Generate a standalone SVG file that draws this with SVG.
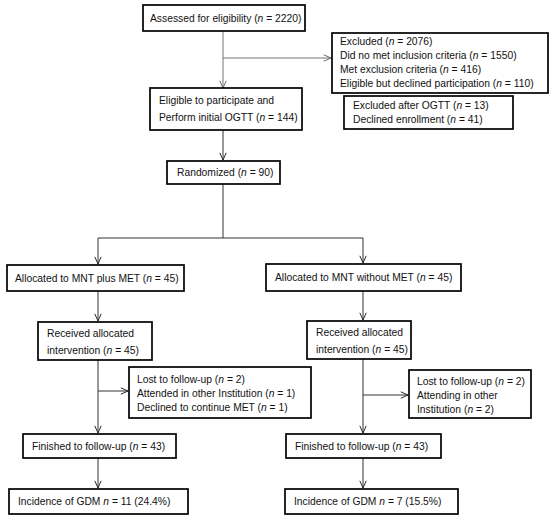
<svg xmlns="http://www.w3.org/2000/svg" width="550" height="520" viewBox="0 0 550 520">
<defs>
<marker id="ah" viewBox="0 0 10 10" refX="10" refY="5" markerWidth="8" markerHeight="8" orient="auto" markerUnits="userSpaceOnUse">
<path d="M1,1 L10,5 L1,9" fill="none" stroke="#222" stroke-width="1.2"/>
</marker>
<marker id="ahg" viewBox="0 0 10 10" refX="10" refY="5" markerWidth="8" markerHeight="8" orient="auto" markerUnits="userSpaceOnUse">
<path d="M1,1 L10,5 L1,9" fill="none" stroke="#666" stroke-width="1.2"/>
</marker>
<style>
.box{fill:#fff;stroke:#000;stroke-width:1.7}
.t{font-family:"Liberation Sans",Arial,sans-serif;font-size:10.3px;fill:#111}
.i{font-style:italic}
.c{fill:none;stroke:#333;stroke-width:1}
.g{fill:none;stroke:#777;stroke-width:1}
</style>
</defs>
<rect width="550" height="520" fill="#fff"/>
<g id="connectors">
<path class="g" d="M223,31 V88" marker-end="url(#ahg)"/>
<path class="g" d="M223,58 H331" marker-end="url(#ahg)"/>
<path class="c" d="M223,130 V160" marker-end="url(#ah)"/>
<path class="c" d="M223,184 V238"/>
<path class="c" d="M98,238 H363"/>
<path class="c" d="M98,238 V264" marker-end="url(#ah)"/>
<path class="c" d="M363,238 V263" marker-end="url(#ah)"/>
<path class="c" d="M98,291 V321" marker-end="url(#ah)"/>
<path class="c" d="M363,291 V320" marker-end="url(#ah)"/>
<path class="c" d="M98,360 V433" marker-end="url(#ah)"/>
<path class="c" d="M98,391 H128" marker-end="url(#ah)"/>
<path class="c" d="M363,359 V433" marker-end="url(#ah)"/>
<path class="c" d="M363,395 H408" marker-end="url(#ah)"/>
<path class="c" d="M98,458 V488" marker-end="url(#ah)"/>
<path class="c" d="M363,458 V488" marker-end="url(#ah)"/>
</g>
<g id="assessed">
<rect class="box" x="143" y="5" width="162" height="26"/>
<text class="t" x="150" y="22">Assessed for eligibility (<tspan class="i">n</tspan> = 2220)</text>
</g>
<g id="excluded">
<rect class="box" x="332" y="33" width="216" height="60"/>
<text class="t" x="340" y="45">Excluded (<tspan class="i">n</tspan> = 2076)</text>
<text class="t" x="340" y="59">Did no met inclusion criteria (<tspan class="i">n</tspan> = 1550)</text>
<text class="t" x="340" y="73">Met exclusion criteria (<tspan class="i">n</tspan> = 416)</text>
<text class="t" x="340" y="87">Eligible but declined participation (<tspan class="i">n</tspan> = 110)</text>
</g>
<g id="excluded-ogtt">
<rect class="box" x="344" y="96" width="169" height="33"/>
<text class="t" x="353" y="109">Excluded after OGTT (<tspan class="i">n</tspan> = 13)</text>
<text class="t" x="353" y="123">Declined enrollment (<tspan class="i">n</tspan> = 41)</text>
</g>
<g id="eligible">
<rect class="box" x="150" y="88" width="152" height="42"/>
<text class="t" x="159" y="104">Eligible to participate and</text>
<text class="t" x="159" y="121">Perform initial OGTT (<tspan class="i">n</tspan> = 144)</text>
</g>
<g id="randomized">
<rect class="box" x="167" y="161" width="113" height="23"/>
<text class="t" x="177" y="176">Randomized (<tspan class="i">n</tspan> = 90)</text>
</g>
<g id="alloc-met">
<rect class="box" x="7" y="265" width="177" height="26"/>
<text class="t" x="15" y="282">Allocated to MNT plus MET (<tspan class="i">n</tspan> = 45)</text>
</g>
<g id="alloc-nomet">
<rect class="box" x="266" y="264" width="195" height="27"/>
<text class="t" x="275" y="281">Allocated to MNT without MET (<tspan class="i">n</tspan> = 45)</text>
</g>
<g id="received-met">
<rect class="box" x="38" y="322" width="114" height="38"/>
<text class="t" x="47" y="337">Received allocated</text>
<text class="t" x="47" y="354">intervention (<tspan class="i">n</tspan> = 45)</text>
</g>
<g id="received-nomet">
<rect class="box" x="307" y="321" width="104" height="38"/>
<text class="t" x="316" y="336">Received allocated</text>
<text class="t" x="316" y="353">intervention (<tspan class="i">n</tspan> = 45)</text>
</g>
<g id="lost-met">
<rect class="box" x="129" y="367" width="182" height="51"/>
<text class="t" x="137" y="383">Lost to follow-up (<tspan class="i">n</tspan> = 2)</text>
<text class="t" x="137" y="397">Attended in other Institution (<tspan class="i">n</tspan> = 1)</text>
<text class="t" x="137" y="411">Declined to continue MET (<tspan class="i">n</tspan> = 1)</text>
</g>
<g id="lost-nomet">
<rect class="box" x="409" y="370" width="122" height="48"/>
<text class="t" x="417" y="385">Lost to follow-up (<tspan class="i">n</tspan> = 2)</text>
<text class="t" x="417" y="399">Attending in other</text>
<text class="t" x="417" y="413">Institution (<tspan class="i">n</tspan> = 2)</text>
</g>
<g id="finished-met">
<rect class="box" x="23" y="434" width="153" height="24"/>
<text class="t" x="32" y="450">Finished to follow-up (<tspan class="i">n</tspan> = 43)</text>
</g>
<g id="finished-nomet">
<rect class="box" x="286" y="434" width="155" height="24"/>
<text class="t" x="295" y="450">Finished to follow-up (<tspan class="i">n</tspan> = 43)</text>
</g>
<g id="incidence-met">
<rect class="box" x="9" y="489" width="179" height="25"/>
<text class="t" x="18" y="505">Incidence of GDM  <tspan class="i">n</tspan> = 11 (24.4%)</text>
</g>
<g id="incidence-nomet">
<rect class="box" x="285" y="489" width="173" height="25"/>
<text class="t" x="294" y="505">Incidence of GDM  <tspan class="i">n</tspan> = 7 (15.5%)</text>
</g>
</svg>
